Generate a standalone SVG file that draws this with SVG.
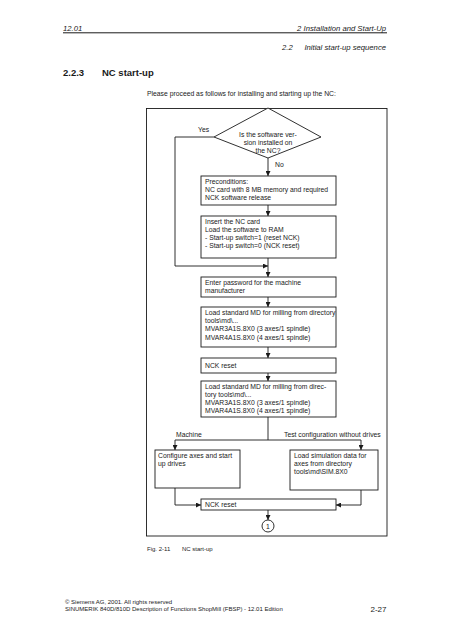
<svg xmlns="http://www.w3.org/2000/svg" width="452" height="640" viewBox="0 0 452 640">
<style>
text{font-family:"Liberation Sans",Arial,sans-serif;fill:#1a1a1a}
.t{font-size:6.8px}
.h{font-size:7.7px;font-style:italic}
.box{fill:#fff;stroke:#1a1a1a;stroke-width:0.9}
.ln{fill:none;stroke:#1a1a1a;stroke-width:0.9}
</style>
<defs>
<marker id="ah" viewBox="0 0 6 6" refX="6" refY="3" markerWidth="5" markerHeight="5" orient="auto" markerUnits="userSpaceOnUse">
<path d="M0,0 L6,3 L0,6 z" fill="#1a1a1a"/>
</marker>
</defs>
<rect width="452" height="640" fill="#fff"/>
<g id="header">
<text class="h" x="63" y="30.5">12.01</text>
<text class="h" x="386" y="30.5" text-anchor="end">2 Installation and Start-Up</text>
<line x1="63" y1="32.8" x2="387" y2="32.8" stroke="#1a1a1a" stroke-width="1"/>
<text class="h" x="282" y="50">2.2</text>
<text class="h" x="386" y="50" text-anchor="end">Initial start-up sequence</text>
<text x="63" y="76" font-size="9.5" font-weight="bold">2.2.3</text>
<text x="102" y="76" font-size="9.5" font-weight="bold">NC start-up</text>
<text x="147" y="95.5" font-size="6.8">Please proceed as follows for installing and starting up the NC:</text>
</g>
<g id="frame"><rect class="ln" x="146.5" y="108.5" width="240.5" height="427.5"/></g>
<g id="connectors">
<polyline class="ln" points="214,137 175,137 175,266 268,266" marker-end="url(#ah)"/>
<line class="ln" x1="268" y1="158" x2="268" y2="176" marker-end="url(#ah)"/>
<line class="ln" x1="268" y1="205" x2="268" y2="216" marker-end="url(#ah)"/>
<line class="ln" x1="268" y1="258" x2="268" y2="277" marker-end="url(#ah)"/>
<line class="ln" x1="268" y1="297" x2="268" y2="307" marker-end="url(#ah)"/>
<line class="ln" x1="268" y1="347" x2="268" y2="358" marker-end="url(#ah)"/>
<line class="ln" x1="268" y1="373" x2="268" y2="381" marker-end="url(#ah)"/>
<line class="ln" x1="268" y1="417" x2="268" y2="440"/>
<line class="ln" x1="175" y1="440" x2="361" y2="440"/>
<line class="ln" x1="175" y1="440" x2="175" y2="450" marker-end="url(#ah)"/>
<line class="ln" x1="361" y1="440" x2="361" y2="450" marker-end="url(#ah)"/>
<polyline class="ln" points="175,488 175,505 201,505" marker-end="url(#ah)"/>
<polyline class="ln" points="361,490 361,505 336,505" marker-end="url(#ah)"/>
<line class="ln" x1="268" y1="510" x2="268" y2="520" marker-end="url(#ah)"/>
<text class="t" x="198" y="132">Yes</text>
<text class="t" x="275" y="167">No</text>
<text class="t" x="176" y="437">Machine</text>
<text class="t" x="284" y="437">Test configuration without drives</text>
</g>
<g id="decision">
<polygon class="box" points="268,108 321,137 268,158 214,137"/>
<text class="t" x="268" y="137" text-anchor="middle">Is the software ver-</text>
<text class="t" x="268" y="145" text-anchor="middle">sion installed on</text>
<text class="t" x="268" y="153" text-anchor="middle">the NC?</text>
</g>
<g id="preconditions">
<rect class="box" x="201" y="176" width="135" height="29"/>
<text class="t" x="205" y="183.5">Preconditions:</text>
<text class="t" x="205" y="191.5">NC card with 8 MB memory and required</text>
<text class="t" x="205" y="199.5">NCK software release</text>
</g>
<g id="insert">
<rect class="box" x="201" y="216" width="135" height="42"/>
<text class="t" x="205" y="223.5">Insert the NC card</text>
<text class="t" x="205" y="231.5">Load the software to RAM</text>
<text class="t" x="205" y="239.5">- Start-up switch=1 (reset NCK)</text>
<text class="t" x="205" y="247.5">- Start-up switch=0 (NCK reset)</text>
</g>
<g id="password">
<rect class="box" x="201" y="277" width="135" height="20"/>
<text class="t" x="205" y="284.5">Enter password for the machine</text>
<text class="t" x="205" y="292.5">manufacturer</text>
</g>
<g id="loadmd1">
<rect class="box" x="201" y="307" width="135" height="40"/>
<text class="t" x="205" y="314.5">Load standard MD for milling from directory</text>
<text class="t" x="205" y="322.5">tools\md\...</text>
<text class="t" x="205" y="331">MVAR3A1S.8X0 (3 axes/1 spindle)</text>
<text class="t" x="205" y="339.5">MVAR4A1S.8X0 (4 axes/1 spindle)</text>
</g>
<g id="nckreset1">
<rect class="box" x="201" y="358" width="135" height="15"/>
<text class="t" x="205" y="368">NCK reset</text>
</g>
<g id="loadmd2">
<rect class="box" x="201" y="381" width="135" height="36"/>
<text class="t" x="205" y="388.5">Load standard MD for milling from direc-</text>
<text class="t" x="205" y="396.5">tory tools\md\...</text>
<text class="t" x="205" y="404.5">MVAR3A1S.8X0 (3 axes/1 spindle)</text>
<text class="t" x="205" y="412.5">MVAR4A1S.8X0 (4 axes/1 spindle)</text>
</g>
<g id="configure">
<rect class="box" x="155" y="450" width="85" height="38"/>
<text class="t" x="158" y="457.5">Configure axes and start</text>
<text class="t" x="158" y="465.5">up drives</text>
</g>
<g id="loadsim">
<rect class="box" x="290" y="450" width="88" height="40"/>
<text class="t" x="294" y="457.5">Load simulation data for</text>
<text class="t" x="294" y="465.5">axes from directory</text>
<text class="t" x="294" y="473.5">tools\md\SIM.8X0</text>
</g>
<g id="nckreset2">
<rect class="box" x="201" y="499" width="135" height="11"/>
<text class="t" x="205" y="507">NCK reset</text>
</g>
<g id="connector1">
<circle class="box" cx="268" cy="526" r="6"/>
<text class="t" x="268" y="528.5" text-anchor="middle">1</text>
</g>
<g id="caption">
<text x="147" y="551" font-size="6">Fig. 2-11</text>
<text x="182" y="551" font-size="6">NC start-up</text>
</g>
<g id="footer">
<text x="65" y="604" font-size="6">© Siemens AG, 2001. All rights reserved</text>
<text x="65" y="611" font-size="6">SINUMERIK 840D/810D Description of Functions ShopMill (FBSP) - 12.01 Edition</text>
<text x="386.5" y="612" font-size="8" text-anchor="end">2-27</text>
</g>
</svg>
